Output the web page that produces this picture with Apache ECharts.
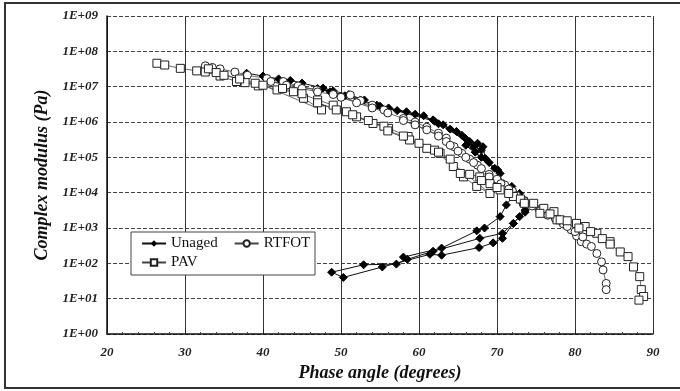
<!DOCTYPE html>
<html>
<head>
<meta charset="utf-8">
<script src="https://cdn.jsdelivr.net/npm/echarts@6/dist/echarts.min.js"></script>
<style>
  html, body { margin: 0; padding: 0; background: #fff; }
  #chart { width: 680px; height: 391px; }
</style>
</head>
<body>
<div id="chart"></div>
<script>
// phase angle (degrees), complex modulus (Pa), in plotting order
var unaged = [
    [37.9,2.4e7],[40.0,2.0e7],[42.0,1.66e7],[43.5,1.5e7],[45.0,1.26e7],[47.7,9.1e6],[49.0,7.6e6],[51.0,6.0e6],[53.0,4.2e6],
    [47.0,8.9e6],[48.6,7.2e6],[50.5,5.5e6],[52.5,4.2e6],[54.6,3.0e6],[56.1,2.5e6],[58.4,1.95e6],[60.6,1.5e6],[62.0,1.05e6],
    [55.0,2.8e6],[57.2,2.1e6],[59.5,1.66e6],[61.8,1.15e6],[63.1,8.3e5],[64.8,5.4e5],[65.9,3.5e5],[67.0,2.0e5],[68.0,1.6e5],
    [62.5,8.9e5],[64.0,6.3e5],[65.5,4.2e5],[66.5,2.8e5],[67.5,2.5e5],[68.2,2.0e5],[68.5,9.3e4],[69.7,4.9e4],[70.4,3.5e4],
    [66.0,2.2e5],[67.2,1.4e5],[68.0,1.0e5],[69.0,7.1e4],[70.1,4.4e4],[70.8,1.8e4],[71.9,1.5e4],[72.9,9.5e3],[73.4,5.6e3],
    [73.6,2.8e3],[72.9,2.1e3],[72.1,1.35e3],[70.7,510],[69.5,380],[67.7,280],[62.9,170],[61.4,180],[55.3,79],[50.3,40],
    [48.8,56],[52.9,91],[57.1,95],[58.5,130],[61.8,220],[67.8,510],[70.7,710],[72.1,1.35e3],[73.6,3.2e3],
    [72.0,7.9e3],[71.2,4.5e3],[70.4,2.1e3],[68.4,1.0e3],[67.4,830],[62.9,270],[58.0,150]
];
var rtfot = [
    [32.6,3.9e7],[33.5,3.5e7],[34.5,3.2e7],[36.4,2.6e7],[38.0,2.1e7],[40.5,1.7e7],[42.6,1.4e7],[44.5,1.05e7],[46.9,8.1e6],
    [41.0,1.4e7],[43.0,1.1e7],[45.0,8.9e6],[47.0,7.1e6],[49.0,6.0e6],[51.2,5.8e6],[52.5,4.0e6],[54.0,3.0e6],[55.5,2.2e6],
    [50.0,5.0e6],[52.0,3.5e6],[54.0,2.5e6],[56.0,1.8e6],[58.0,1.26e6],[59.5,1.0e6],[61.0,7.1e5],[62.5,4.8e5],[63.5,3.5e5],
    [58.0,1.1e6],[59.5,8.3e5],[61.0,6.0e5],[62.5,4.0e5],[63.5,2.8e5],[64.5,2.0e5],[65.5,1.3e5],[66.5,8.9e4],[67.5,6.0e4],
    [64.0,2.2e5],[65.0,1.5e5],[66.0,1.0e5],[67.0,7.1e4],[68.0,4.8e4],[69.0,3.3e4],[70.0,2.4e4],[71.0,1.65e4],[72.0,1.1e4],
    [69.0,2.8e4],[70.5,1.8e4],[71.5,1.26e4],[72.5,8.3e3],[73.5,6.0e3],[74.5,4.5e3],[75.5,3.3e3],[76.5,2.5e3],[77.5,1.9e3],
    [74.5,4.2e3],[75.5,3.0e3],[76.5,2.3e3],[77.5,1.8e3],[78.5,1.3e3],[79.5,890],[80.2,600],[80.8,410],[81.5,350],
    [79.0,1.1e3],[80.0,790],[81.0,560],[82.1,300],[82.8,190],[83.4,110],[83.6,65],[84.0,27],[84.0,18]
];
var pav = [
    [26.4,4.6e7],[27.4,4.1e7],[29.4,3.3e7],[31.5,2.8e7],[32.6,2.6e7],[34.5,2.0e7],[36.6,1.4e7],[37.7,1.3e7],[39.4,1.05e7],
    [33.0,3.2e7],[34.0,2.5e7],[35.0,2.1e7],[37.0,1.65e7],[39.0,1.25e7],[41.8,8.1e6],[43.9,7.2e6],[45.2,4.7e6],[47.5,2.2e6],
    [40.0,1.1e7],[42.5,8.9e6],[45.0,6.3e6],[47.0,4.2e6],[49.0,3.0e6],[50.7,1.95e6],[52.0,1.4e6],[54.1,9.1e5],[56.1,6.6e5],
    [47.0,3.5e6],[49.4,2.2e6],[51.5,1.6e6],[53.5,1.1e6],[55.5,7.6e5],[58.6,3.9e5],[58.8,3.1e5],[61.0,1.8e5],[62.7,1.3e5],
    [56.0,5.6e5],[58.0,4.0e5],[60.0,2.5e5],[62.0,1.6e5],[64.4,5.5e4],[65.7,2.8e4],[67.4,1.5e4],[69.1,9.5e3],
    [62.5,1.4e5],[64.0,8.9e4],[65.3,3.5e4],[66.5,3.3e4],[67.8,2.8e4],[69.1,1.8e4],[70.4,1.2e4],[72.1,7.8e3],[73.4,5.5e3],
    [68.0,2.2e4],[70.0,1.4e4],[71.5,9.5e3],[73.0,6.6e3],[74.7,5.0e3],[76.0,3.6e3],[77.3,2.9e3],[77.7,1.7e3],
    [73.5,5.0e3],[75.5,2.6e3],[76.8,2.5e3],[78.1,1.7e3],[79.0,1.6e3],[80.2,1.35e3],[81.3,1.1e3],[82.8,710],[84.5,410],
    [80.5,1.0e3],[82.0,790],[83.5,500],[84.5,350],[85.8,210],[86.8,155],[87.5,79],[88.3,42],[88.5,18],[88.8,11.5],[88.2,9.1]
];

var serif = '"Liberation Serif", "DejaVu Serif", serif';
var legendText = {fontFamily: serif, fontSize: 15, color: '#111'};

var myChart = echarts.init(document.getElementById('chart'), null, {renderer: 'canvas'});

option = {
    backgroundColor: '#fff',
    animation: false,
    grid: {left: 107, right: 27, top: 16, bottom: 57},
    graphic: [{
            type: 'rect',
            shape: {x: 5, y: 3, width: 690, height: 385},
            style: {fill: 'none', stroke: '#333', lineWidth: 2}
        },
        {
            type: 'rect', z: 50,
            shape: {x: 131, y: 232, width: 184, height: 43},
            style: {fill: '#fff', stroke: '#444', lineWidth: 1}
        }
    ],
    legend: [{
            left: 141, top: 236, padding: 0,
            itemGap: 16, itemWidth: 24, itemHeight: 8,
            data: ['Unaged', 'RTFOT'],
            z: 60,
            textStyle: legendText
        },
        {
            left: 141, top: 255, padding: 0,
            itemWidth: 24, itemHeight: 8,
            data: ['PAV'],
            z: 60,
            textStyle: legendText
        }
    ],
    xAxis: {
        type: 'value', min: 20, max: 90, interval: 10,
        name: 'Phase angle (degrees)', nameLocation: 'middle', nameGap: 24,
        nameTextStyle: {fontFamily: serif, fontSize: 18, fontWeight: 'bold', fontStyle: 'italic', color: '#111'},
        axisLine: {lineStyle: {color: '#111', width: 1.5}},
        axisTick: {inside: true, length: 4, lineStyle: {color: '#222'}},
        minorTick: {show: true, splitNumber: 5, length: 2, lineStyle: {color: '#444'}},
        axisLabel: {margin: 12, fontFamily: serif, fontSize: 13, fontWeight: 'bold', fontStyle: 'italic', color: '#222'},
        splitLine: {show: true, lineStyle: {color: '#333', width: 1}}
    },
    yAxis: {
        type: 'log', logBase: 10, min: 1, max: 1e9,
        name: 'Complex modulus (Pa)', nameLocation: 'middle', nameGap: 52, nameRotate: 90,
        nameTextStyle: {fontFamily: serif, fontSize: 18, fontWeight: 'bold', fontStyle: 'italic', color: '#111'},
        axisLine: {show: true, lineStyle: {color: '#111', width: 1.5}},
        axisTick: {show: false},
        axisLabel: {
            margin: 9, fontFamily: serif, fontSize: 13, fontWeight: 'bold', fontStyle: 'italic', color: '#222',
            formatter: function(v) {
                var e = Math.round(Math.log(v) / Math.LN10);
                return '1E+' + (e < 10 ? '0' : '') + e;
            }
        },
        splitLine: {show: true, lineStyle: {color: '#444', width: 1, type: [4, 2]}}
    },
    series: [{
            name: 'Unaged',
            type: 'line',
            data: unaged,
            symbol: 'diamond',
            symbolSize: 8,
            itemStyle: {color: '#000', borderColor: '#000'},
            lineStyle: {color: '#111', width: 1}
        },
        {
            name: 'RTFOT',
            type: 'line',
            data: rtfot,
            symbol: 'circle',
            symbolSize: 8,
            itemStyle: {color: '#fff', borderColor: '#222', borderWidth: 1},
            lineStyle: {color: '#444', width: 0.8}
        },
        {
            name: 'PAV',
            type: 'line',
            data: pav,
            symbol: 'rect',
            symbolSize: 8,
            itemStyle: {color: '#fff', borderColor: '#222', borderWidth: 1},
            lineStyle: {color: '#444', width: 0.8}
        }
    ]
};
myChart.setOption(option);
</script>
</body>
</html>
